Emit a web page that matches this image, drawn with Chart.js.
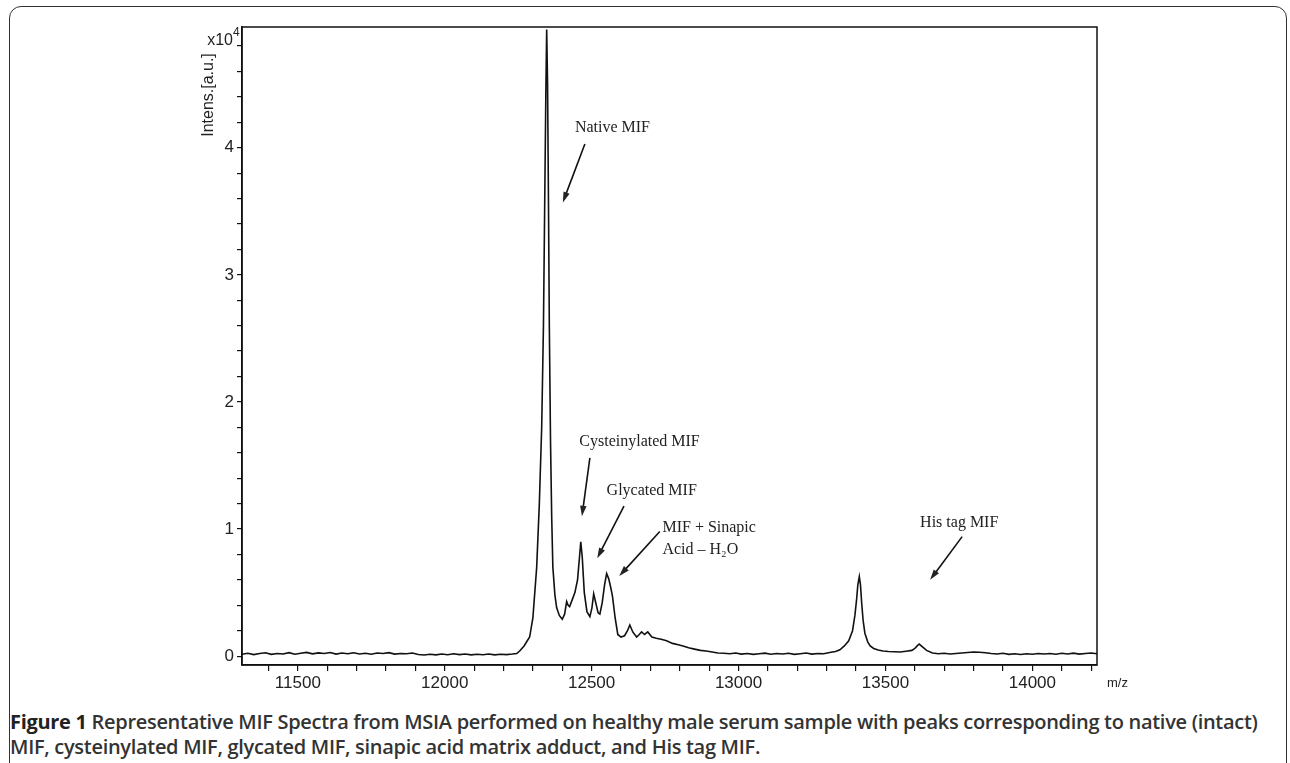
<!DOCTYPE html>
<html>
<head>
<meta charset="utf-8">
<script src="https://cdn.jsdelivr.net/npm/chart.js@4.4.1/dist/chart.umd.min.js"></script>
<style>
  body { margin: 0; background: #fff; width: 1290px; height: 763px; overflow: hidden; position: relative; }
  #frame { position: absolute; left: 9px; top: 6px; width: 1276px; height: 800px; border: 1.5px solid #333; border-radius: 12px; }
  #wrap { position: absolute; left: 0; top: 0; width: 1290px; height: 700px; }
  #caption { position: absolute; left: 10px; top: 709px; width: 1274px; font-family: "Open Sans", sans-serif; font-size: 20px; font-weight: 600; color: #333; line-height: 25px; letter-spacing: -0.3px; }
  #caption b { color: #222; font-weight: 700; }
</style>
</head>
<body>
<div id="frame"></div>
<div id="wrap"><canvas id="spectrum"></canvas></div>
<div id="caption"><b>Figure 1</b> Representative MIF Spectra from MSIA performed on healthy male serum sample with peaks corresponding to native (intact) MIF, cysteinylated MIF, glycated MIF, sinapic acid matrix adduct, and His tag MIF.</div>
<script>
// m/z values and intensity (x10^4 a.u.)
const mz = [
  11310, 11330, 11350, 11370, 11390, 11410, 11430, 11450, 11470, 11490,
  11510, 11530, 11550, 11570, 11590, 11610, 11630, 11650, 11670, 11690,
  11710, 11730, 11750, 11770, 11790, 11810, 11830, 11850, 11870, 11890,
  11910, 11930, 11950, 11970, 11990, 12010, 12030, 12050, 12070, 12090,
  12110, 12130, 12150, 12170, 12190, 12210, 12230, 12245,
  12255, 12270, 12289, 12300, 12313, 12322, 12330, 12336, 12340, 12344,
  12347, 12350, 12353, 12356, 12360, 12364, 12368, 12375, 12381, 12390,
  12400, 12408, 12415, 12420, 12425, 12435, 12443, 12452, 12458, 12463,
  12468, 12475, 12484, 12494, 12501, 12507, 12514, 12522, 12528, 12536,
  12544, 12551, 12558, 12565, 12571, 12580, 12589, 12600, 12612, 12622,
  12630, 12640, 12653, 12662, 12670, 12680, 12691, 12705, 12720, 12740,
  12755, 12775, 12795, 12811, 12830, 12850, 12870, 12890, 12910, 12930,
  12950, 12970, 12990, 13010, 13030, 13050, 13070, 13090, 13110, 13130,
  13150, 13170, 13190, 13210, 13230, 13250, 13270, 13290, 13310, 13330,
  13345, 13360, 13375, 13388, 13396, 13402, 13406, 13411, 13415, 13419,
  13424, 13430, 13440, 13448, 13460, 13475, 13492, 13510, 13530, 13550,
  13570, 13590, 13600, 13608, 13615, 13625, 13640, 13660, 13680, 13700,
  13720, 13740, 13760, 13780, 13800, 13820, 13840, 13860, 13880, 13900,
  13920, 13940, 13960, 13980, 14000, 14020, 14040, 14060, 14080, 14100,
  14120, 14140, 14160, 14180, 14200, 14220
];
const intensity = [
  0.015, 0.022, 0.012, 0.020, 0.026, 0.014, 0.021, 0.017, 0.027, 0.015,
  0.023, 0.029, 0.018, 0.025, 0.020, 0.028, 0.016, 0.024, 0.019, 0.026,
  0.017, 0.022, 0.015, 0.024, 0.020, 0.027, 0.016, 0.021, 0.018, 0.024,
  0.013, 0.009, 0.014, 0.010, 0.016, 0.011, 0.018, 0.012, 0.017, 0.010,
  0.015, 0.011, 0.016, 0.010, 0.014, 0.012, 0.016, 0.020,
  0.040, 0.080, 0.150, 0.300, 0.700, 1.200, 1.800, 2.600, 3.500, 4.400,
  4.930, 4.500, 3.600, 2.600, 1.700, 1.100, 0.700, 0.480, 0.380, 0.320,
  0.290, 0.330, 0.430, 0.400, 0.390, 0.450, 0.500, 0.600, 0.760, 0.900,
  0.780, 0.500, 0.350, 0.310, 0.380, 0.490, 0.420, 0.340, 0.330, 0.420,
  0.560, 0.650, 0.610, 0.540, 0.470, 0.300, 0.170, 0.150, 0.160, 0.200,
  0.245, 0.190, 0.150, 0.170, 0.190, 0.170, 0.190, 0.150, 0.140, 0.130,
  0.120, 0.100, 0.090, 0.080, 0.065, 0.055, 0.045, 0.040, 0.032, 0.025,
  0.022, 0.018, 0.024, 0.016, 0.021, 0.014, 0.019, 0.023, 0.015, 0.020,
  0.017, 0.022, 0.014, 0.019, 0.024, 0.016, 0.021, 0.018, 0.028, 0.036,
  0.050, 0.080, 0.120, 0.200, 0.320, 0.450, 0.560, 0.625, 0.560, 0.420,
  0.280, 0.180, 0.110, 0.080, 0.060, 0.048, 0.040, 0.036, 0.034, 0.032,
  0.038, 0.045, 0.060, 0.080, 0.095, 0.075, 0.045, 0.025, 0.018, 0.022,
  0.016, 0.020, 0.024, 0.028, 0.032, 0.030, 0.026, 0.020, 0.016, 0.022,
  0.014, 0.019, 0.013, 0.018, 0.015, 0.021, 0.016, 0.020, 0.015, 0.022,
  0.017, 0.023, 0.016, 0.020, 0.024, 0.019
];
const xTicks = [11400, 11500, 11600, 11700, 11800, 11900, 12000, 12100, 12200, 12300,
  12400, 12500, 12600, 12700, 12800, 12900, 13000, 13100, 13200, 13300, 13400, 13500,
  13600, 13700, 13800, 13900, 14000, 14100, 14200];
const yTicks = [0, 0.2, 0.4, 0.6, 0.8, 1, 1.2, 1.4, 1.6, 1.8, 2, 2.2, 2.4, 2.6, 2.8,
  3, 3.2, 3.4, 3.6, 3.8, 4, 4.2, 4.4, 4.6, 4.8];

// peak labels: text position and arrow (tail -> head) in data units
const peakLabels = [
  { lines: ["Native MIF"], at: [12443, 4.16], tail: [12477, 4.03], head: [12402, 3.57] },
  { lines: ["Cysteinylated MIF"], at: [12458, 1.69], tail: [12494, 1.56], head: [12467, 1.10] },
  { lines: ["Glycated MIF"], at: [12551, 1.30], tail: [12610, 1.18], head: [12519, 0.77] },
  { lines: ["MIF + Sinapic", "Acid \u2013 H\u2082O"], at: [12741, 1.01], tail: [12732, 0.98], head: [12594, 0.63] },
  { lines: ["His tag MIF"], at: [13618, 1.05], tail: [13761, 0.94], head: [13652, 0.60] }
];

const decor = {
  id: "decor",
  afterDraw(chart) {
    const { ctx, chartArea: a, scales: { x, y } } = chart;
    ctx.save();
    ctx.strokeStyle = "#111";
    ctx.lineWidth = 1.5;
    ctx.strokeRect(a.left, a.top, a.right - a.left, a.bottom - a.top);

    ctx.fillStyle = "#222";
    ctx.font = "16px 'Liberation Serif', serif";
    ctx.textBaseline = "middle";
    ctx.textAlign = "left";
    peakLabels.forEach((p) => {
      p.lines.forEach((t, i) => {
        ctx.fillText(t, x.getPixelForValue(p.at[0]), y.getPixelForValue(p.at[1]) + i * 22);
      });
      const x1 = x.getPixelForValue(p.tail[0]), y1 = y.getPixelForValue(p.tail[1]);
      const x2 = x.getPixelForValue(p.head[0]), y2 = y.getPixelForValue(p.head[1]);
      const ang = Math.atan2(y2 - y1, x2 - x1);
      ctx.beginPath();
      ctx.moveTo(x1, y1);
      ctx.lineTo(x2 - 8 * Math.cos(ang), y2 - 8 * Math.sin(ang));
      ctx.lineWidth = 1.6;
      ctx.stroke();
      ctx.beginPath();
      ctx.moveTo(x2, y2);
      ctx.lineTo(x2 - 11 * Math.cos(ang - 0.3), y2 - 11 * Math.sin(ang - 0.3));
      ctx.lineTo(x2 - 11 * Math.cos(ang + 0.3), y2 - 11 * Math.sin(ang + 0.3));
      ctx.closePath();
      ctx.fill();
    });

    ctx.font = "16px 'Liberation Sans', Arial, sans-serif";
    ctx.textAlign = "right";
    ctx.fillText("x10", a.left - 9, a.top + 14);
    ctx.font = "12px 'Liberation Sans', Arial, sans-serif";
    ctx.textAlign = "left";
    ctx.fillText("4", a.left - 9, a.top + 6);
    ctx.font = "13px 'Liberation Sans', Arial, sans-serif";
    ctx.fillText("m/z", a.right + 10, a.bottom + 18);
    ctx.font = "16px 'Liberation Sans', Arial, sans-serif";
    ctx.translate(a.left - 33, a.top + 68);
    ctx.rotate(-Math.PI / 2);
    ctx.textAlign = "center";
    ctx.fillText("Intens.[a.u.]", 0, 0);
    ctx.restore();
  }
};

new Chart(document.getElementById("spectrum"), {
  type: "line",
  data: {
    datasets: [{
      data: mz.map((m, i) => ({ x: m, y: intensity[i] })),
      borderColor: "#111",
      borderWidth: 1.6,
      pointRadius: 0,
      tension: 0
    }]
  },
  options: {
    responsive: true,
    maintainAspectRatio: false,
    animation: false,
    layout: { padding: { left: 192, right: 193, top: 27, bottom: 0 } },
    plugins: { legend: { display: false }, tooltip: { enabled: false } },
    scales: {
      x: {
        type: "linear",
        min: 11310,
        max: 14220,
        afterFit: (s) => { s.height = 35; },
        afterBuildTicks: (s) => { s.ticks = xTicks.map((v) => ({ value: v })); },
        grid: { drawOnChartArea: false, tickLength: 6, color: "#111", lineWidth: 1.2 },
        border: { color: "#111", width: 1.5 },
        ticks: {
          color: "#222",
          font: { family: "'Liberation Sans', Arial, sans-serif", size: 17 },
          maxRotation: 0,
          autoSkip: false,
          padding: 2,
          callback: (v) => (v % 500 === 0 ? String(v) : "")
        }
      },
      y: {
        min: -0.07,
        max: 4.95,
        afterFit: (s) => { s.width = 50; },
        afterBuildTicks: (s) => { s.ticks = yTicks.map((v) => ({ value: v })); },
        grid: { drawOnChartArea: false, tickLength: 5, color: "#111", lineWidth: 1.2 },
        border: { color: "#111", width: 1.5 },
        ticks: {
          color: "#222",
          font: { family: "'Liberation Sans', Arial, sans-serif", size: 17 },
          autoSkip: false,
          padding: 3,
          callback: (v) => (Math.abs(v - Math.round(v)) < 1e-6 ? String(Math.round(v)) : "")
        }
      }
    }
  },
  plugins: [decor]
});
</script>
</body>
</html>
